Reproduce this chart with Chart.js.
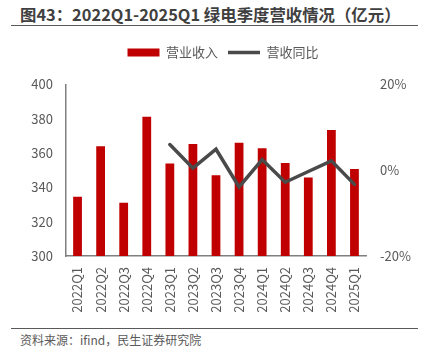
<!DOCTYPE html>
<html>
<head>
<meta charset="utf-8">
<script src="https://cdn.jsdelivr.net/npm/chart.js@4"></script>
<style>
  html, body { margin:0; padding:0; background:#fff; width:426px; height:356px; overflow:hidden; }
  body { position:relative; font-family:"Noto Sans CJK SC","Noto Sans",sans-serif; }
  #title { position:absolute; left:20px; top:4px; font-size:16.4px; font-weight:bold; color:#404040; white-space:nowrap; line-height:20px; }
  #rule1 { position:absolute; left:11px; width:407px; top:25px; height:0; border-top:1.5px solid #595959; }
  #rule2 { position:absolute; left:11px; width:407px; top:328px; height:0; border-top:1.5px solid #595959; }
  #src { position:absolute; left:20px; top:332px; font-size:12px; color:#595959; white-space:nowrap; line-height:16px; }
  #wrap { position:absolute; left:0; top:36px; width:426px; height:284px; }
</style>
</head>
<body>
<div id="title">图43：2022Q1-2025Q1 绿电季度营收情况（亿元）</div>
<div id="rule1"></div>
<div id="wrap"><canvas id="c" width="426" height="284"></canvas></div>
<div id="rule2"></div>
<div id="src">资料来源：ifind，民生证券研究院</div>
<script>
const categories = ["2022Q1","2022Q2","2022Q3","2022Q4","2023Q1","2023Q2","2023Q3","2023Q4","2024Q1","2024Q2","2024Q3","2024Q4","2025Q1"];
const revenue = [334.5, 364, 331, 381.2, 354, 365.3, 347.1, 366.1, 362.8, 354.3, 345.8, 373.5, 350.8];
const revenueYoY = [null, null, null, null, 6.0, 0.5, 4.9, -3.9, 2.5, -2.8, -0.3, 2.2, -3.3];
const leftTicks = [300, 320, 340, 360, 380, 400];
const rightTicks = [-20, 0, 20];

const tickFont = { family: "'Noto Sans CJK SC','Noto Sans',sans-serif", size: 13 };
const xFont = { family: "'Noto Sans CJK SC','Noto Sans',sans-serif", size: 13 };

const legendMargin = {
  id: 'legendMargin',
  beforeInit(chart) {
    const fit = chart.legend.fit;
    chart.legend.fit = function () { fit.bind(chart.legend)(); this.height += 15.5; };
  }
};

new Chart(document.getElementById('c'), {
  data: {
    labels: categories,
    datasets: [
      {
        type: 'line', label: '营收同比', data: revenueYoY, yAxisID: 'y1',
        borderColor: '#4a4a4a', backgroundColor: '#4a4a4a', borderWidth: 3.5,
        pointRadius: 0, pointStyle: 'line', tension: 0, spanGaps: false,
        borderCapStyle: 'round', borderJoinStyle: 'miter', order: 0
      },
      {
        type: 'bar', label: '营业收入', data: revenue, yAxisID: 'y',
        backgroundColor: '#c00000', borderWidth: 0, pointStyle: 'rect',
        barPercentage: 0.38, categoryPercentage: 1, order: 1
      }
    ]
  },
  options: {
    responsive: false, animation: false, devicePixelRatio: 1,
    layout: { padding: { left: 20, right: 0, top: 0, bottom: 8 } },
    plugins: {
      legend: {
        position: 'top',
        reverse: true,
        labels: {
          usePointStyle: true, pointStyleWidth: 32, boxHeight: 8, padding: 10,
          color: '#595959', font: { family: "'Noto Sans CJK SC','Noto Sans',sans-serif", size: 13 }
        }
      },
      tooltip: { enabled: false }
    },
    scales: {
      x: {
        grid: { display: false, drawTicks: false },
        border: { display: true, color: '#7f7f7f', width: 1.5 },
        afterFit(s) { s.height = 56; },
        ticks: { minRotation: 90, maxRotation: 90, padding: 11, color: '#595959', font: xFont, autoSkip: false }
      },
      y: {
        position: 'left', min: 300, max: 400,
        grid: { display: false, drawTicks: false },
        border: { display: true, color: '#7f7f7f', width: 1.5 },
        afterBuildTicks(s) { s.ticks = leftTicks.map(v => ({ value: v })); },
        afterFit(s) { s.width = 46; },
        ticks: { padding: 13, color: '#595959', font: tickFont }
      },
      y1: {
        position: 'right', min: -20, max: 20,
        grid: { display: false, drawTicks: false },
        border: { display: false },
        afterBuildTicks(s) { s.ticks = rightTicks.map(v => ({ value: v })); },
        afterFit(s) { s.width = 60; },
        ticks: { padding: 14, color: '#595959', font: tickFont, callback: v => v + '%' }
      }
    }
  },
  plugins: [legendMargin]
});
</script>
</body>
</html>
